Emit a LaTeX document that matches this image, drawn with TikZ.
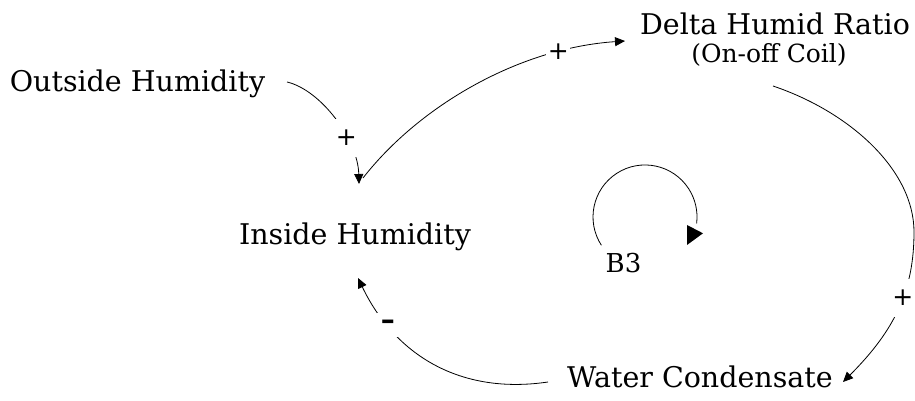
\documentclass[tikz,border=0pt]{standalone}
\usepackage{fontspec}
\setmainfont{DejaVu Serif}
\newfontfamily\signfont{DejaVu Sans}
\usetikzlibrary{arrows.meta}
\tikzset{
  var/.style={anchor=base, inner sep=0pt, font=\fontsize{28.5}{34}\selectfont},
  sub/.style={anchor=base, inner sep=0pt, font=\fontsize{25}{30}\selectfont},
  looplbl/.style={anchor=base, inner sep=0pt, font=\fontsize{26}{30}\selectfont},
  link/.style={line width=0.8pt, -{Triangle[length=10pt,width=9pt]}},
  pol/.style={fill=white, inner sep=0pt, minimum width=24pt, minimum height=38pt,
              font=\signfont\fontsize{25}{30}\selectfont},
  neg/.style={fill=white, inner sep=0pt, minimum width=22pt, minimum height=24pt,
              font=\signfont\bfseries\fontsize{28}{30}\selectfont},
  loopline/.style={line width=0.8pt},
}
\begin{document}
\begin{tikzpicture}[x=1pt,y=1pt]
\useasboundingbox[fill=white] (0,0) rectangle (915,401);

% variables
\node[var] (oh) at (137.5,309) {Outside Humidity};
\node[var] (ih) at (355,156) {Inside Humidity};
\node[var] (dh) at (775,366) {Delta Humid Ratio};
\node[sub] (dhc) at (769,338) {(On-off Coil)};
\node[var] (wc) at (700,13) {Water Condensate};
\node[looplbl] (b3) at (623.5,128) {B3};

% Outside Humidity -> Inside Humidity
\draw[link] ([shift={(149.5,10)}]oh.base) .. controls (321,311) and (358,261) ..
  ([shift={(4,61)}]ih.base) node[pos=0.65,pol] {+};

% Inside Humidity -> Delta Humid Ratio
\draw[link] ([shift={(8,67)}]ih.base) .. controls (420,296) and (520,353) ..
  ([shift={(-150,-6)}]dh.base) node[pos=0.785,pol] {+};

% Delta Humid Ratio -> Water Condensate
\draw[link] ([shift={(4,-23)}]dhc.base) .. controls (850,289) and (914,231) .. (914,169)
  .. controls (914,111) and (895,71) .. ([shift={(143,6)}]wc.base) node[pos=0.42,pol] {+};

% Water Condensate -> Inside Humidity
\draw[link] ([shift={(-152,6)}]wc.base) .. controls (460,6) and (395,46) ..
  ([shift={(3,-33)}]ih.base) node[pos=0.77,neg] {–};

% loop symbol B3
\draw[loopline] (601.4,155.7) arc[start angle=213, end angle=-7, radius=52];
\fill (687,176) -- (703,167.7) -- (687,156) -- cycle;
\end{tikzpicture}
\end{document}
